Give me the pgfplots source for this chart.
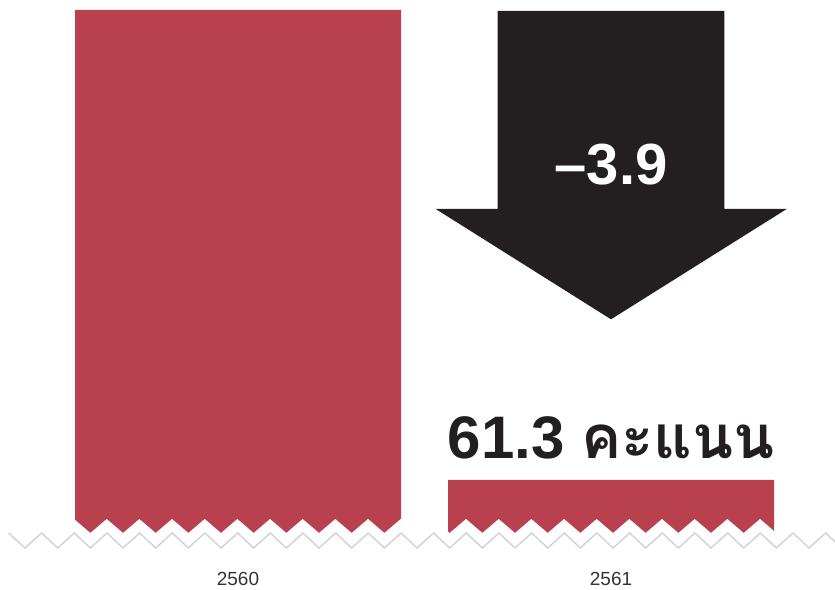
\documentclass[border=0pt]{standalone}
\usepackage{pgfplots}
\pgfplotsset{compat=1.18}
\usepackage{fontspec}
\setmainfont{Liberation Sans}
\newfontfamily\thaifont[Script=Thai]{Loma}
\definecolor{barred}{HTML}{B8404F}
\definecolor{arrowblk}{HTML}{231F20}
\definecolor{zzgray}{HTML}{D4D4D4}
\definecolor{lblgray}{HTML}{333333}
\begin{document}
\begin{tikzpicture}[x=1pt,y=1pt]
\useasboundingbox (0,0) rectangle (835,589);
\begin{axis}[at={(0pt,56pt)}, anchor=south west, scale only axis,
  width=835pt, height=523pt,
  xmin=0, xmax=835, ymin=60.86, ymax=65.2,
  axis line style={draw=none}, major tick length=0pt,
  ytick=\empty, xtick={238,611}, xticklabels={2560,2561},
  xticklabel style={font=\fontsize{19}{22}\selectfont, text=lblgray, anchor=base, yshift=-52pt, inner sep=0pt},
  /pgf/number format/assume math mode=true]
\addplot[ybar, bar width=326pt, fill=barred, draw=none] coordinates {(238,65.2) (611,61.3)};
\end{axis}
% broken-axis zigzag
\fill[white] (-40,30) \foreach \k in {-4,...,25} { -- ({74+32.667*\k},70) -- ({90.333+32.667*\k},56) } -- (880,30) -- cycle;
\draw[zzgray, line width=1.5pt, line join=miter] (8.667,56) \foreach \k in {-2,...,23} { -- ({90.333+32.667*\k},41) -- ({107+32.667*\k},56) };
% arrow
\fill[arrowblk] (497.7,578) -- (724.3,578) -- (724.3,380) -- (786.7,380) -- (611,269.7) -- (435.7,380) -- (497.7,380) -- cycle;
\node[anchor=base, text=white, inner sep=0pt, font=\bfseries\fontsize{58}{60}\selectfont] at (611,404) {–3.9};
\node[anchor=base, text=arrowblk, inner sep=0pt, font=\bfseries\fontsize{60}{62}\selectfont] at (611,130.7) {61.3 {\thaifont คะแนน}};
\end{tikzpicture}
\end{document}
